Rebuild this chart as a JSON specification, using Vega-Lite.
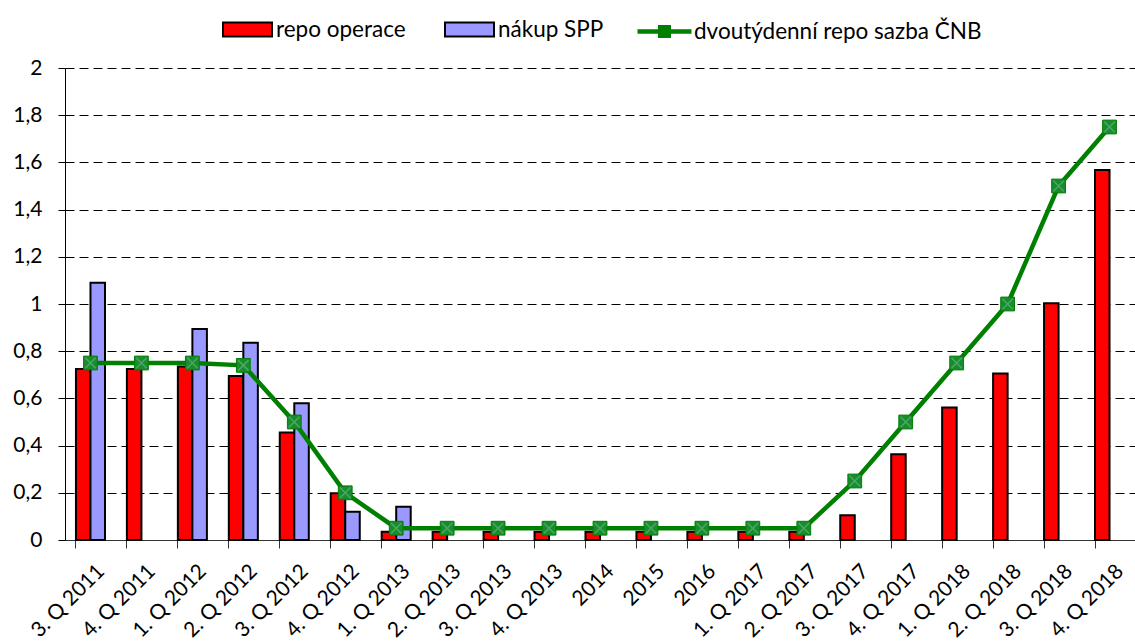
{
  "$schema": "https://vega.github.io/schema/vega-lite/v6.json",
  "autosize": {"type": "none"},
  "width": 1070,
  "height": 472,
  "padding": {"left": 65, "top": 68, "right": 0, "bottom": 104},
  "background": "white",
  "config": {
    "view": {"stroke": null},
    "font": "Lato",
    "axis": {"labelFont": "Lato", "labelColor": "#000", "domainColor": "#000", "tickColor": "#000"},
    "legend": {"labelFont": "Lato", "labelFontSize": 22.5, "labelColor": "#000", "padding": 0, "labelLimit": 500}
  },
  "datasets": {
    "bars": [
      {"cat": "3. Q 2011", "series": "repo operace", "value": 0.725},
      {"cat": "3. Q 2011", "series": "nákup SPP", "value": 1.09},
      {"cat": "4. Q 2011", "series": "repo operace", "value": 0.725},
      {"cat": "1. Q 2012", "series": "repo operace", "value": 0.735},
      {"cat": "1. Q 2012", "series": "nákup SPP", "value": 0.894},
      {"cat": "2. Q 2012", "series": "repo operace", "value": 0.695},
      {"cat": "2. Q 2012", "series": "nákup SPP", "value": 0.836},
      {"cat": "3. Q 2012", "series": "repo operace", "value": 0.455},
      {"cat": "3. Q 2012", "series": "nákup SPP", "value": 0.579},
      {"cat": "4. Q 2012", "series": "repo operace", "value": 0.198},
      {"cat": "4. Q 2012", "series": "nákup SPP", "value": 0.12},
      {"cat": "1. Q 2013", "series": "repo operace", "value": 0.035},
      {"cat": "1. Q 2013", "series": "nákup SPP", "value": 0.141},
      {"cat": "2. Q 2013", "series": "repo operace", "value": 0.035},
      {"cat": "3. Q 2013", "series": "repo operace", "value": 0.035},
      {"cat": "4. Q 2013", "series": "repo operace", "value": 0.035},
      {"cat": "2014", "series": "repo operace", "value": 0.035},
      {"cat": "2015", "series": "repo operace", "value": 0.035},
      {"cat": "2016", "series": "repo operace", "value": 0.035},
      {"cat": "1. Q 2017", "series": "repo operace", "value": 0.035},
      {"cat": "2. Q 2017", "series": "repo operace", "value": 0.035},
      {"cat": "3. Q 2017", "series": "repo operace", "value": 0.105},
      {"cat": "4. Q 2017", "series": "repo operace", "value": 0.363},
      {"cat": "1. Q 2018", "series": "repo operace", "value": 0.561},
      {"cat": "2. Q 2018", "series": "repo operace", "value": 0.706},
      {"cat": "3. Q 2018", "series": "repo operace", "value": 1.003},
      {"cat": "4. Q 2018", "series": "repo operace", "value": 1.568}
    ],
    "rate": [
      {"cat": "3. Q 2011", "series": "dvoutýdenní repo sazba ČNB", "rate": 0.75},
      {"cat": "4. Q 2011", "series": "dvoutýdenní repo sazba ČNB", "rate": 0.75},
      {"cat": "1. Q 2012", "series": "dvoutýdenní repo sazba ČNB", "rate": 0.75},
      {"cat": "2. Q 2012", "series": "dvoutýdenní repo sazba ČNB", "rate": 0.74},
      {"cat": "3. Q 2012", "series": "dvoutýdenní repo sazba ČNB", "rate": 0.5},
      {"cat": "4. Q 2012", "series": "dvoutýdenní repo sazba ČNB", "rate": 0.2},
      {"cat": "1. Q 2013", "series": "dvoutýdenní repo sazba ČNB", "rate": 0.05},
      {"cat": "2. Q 2013", "series": "dvoutýdenní repo sazba ČNB", "rate": 0.05},
      {"cat": "3. Q 2013", "series": "dvoutýdenní repo sazba ČNB", "rate": 0.05},
      {"cat": "4. Q 2013", "series": "dvoutýdenní repo sazba ČNB", "rate": 0.05},
      {"cat": "2014", "series": "dvoutýdenní repo sazba ČNB", "rate": 0.05},
      {"cat": "2015", "series": "dvoutýdenní repo sazba ČNB", "rate": 0.05},
      {"cat": "2016", "series": "dvoutýdenní repo sazba ČNB", "rate": 0.05},
      {"cat": "1. Q 2017", "series": "dvoutýdenní repo sazba ČNB", "rate": 0.05},
      {"cat": "2. Q 2017", "series": "dvoutýdenní repo sazba ČNB", "rate": 0.05},
      {"cat": "3. Q 2017", "series": "dvoutýdenní repo sazba ČNB", "rate": 0.25},
      {"cat": "4. Q 2017", "series": "dvoutýdenní repo sazba ČNB", "rate": 0.5},
      {"cat": "1. Q 2018", "series": "dvoutýdenní repo sazba ČNB", "rate": 0.75},
      {"cat": "2. Q 2018", "series": "dvoutýdenní repo sazba ČNB", "rate": 1.0},
      {"cat": "3. Q 2018", "series": "dvoutýdenní repo sazba ČNB", "rate": 1.5},
      {"cat": "4. Q 2018", "series": "dvoutýdenní repo sazba ČNB", "rate": 1.75}
    ]
  },
  "layer": [
    {
      "data": {"name": "bars"},
      "mark": {"type": "bar", "stroke": "#000", "strokeWidth": 2},
      "encoding": {
        "x": {
          "field": "cat", "type": "nominal", "sort": null, "title": null,
          "scale": {
            "domain": ["3. Q 2011","4. Q 2011","1. Q 2012","2. Q 2012","3. Q 2012","4. Q 2012","1. Q 2013","2. Q 2013","3. Q 2013","4. Q 2013","2014","2015","2016","1. Q 2017","2. Q 2017","3. Q 2017","4. Q 2017","1. Q 2018","2. Q 2018","3. Q 2018","4. Q 2018"],
            "paddingInner": 0.43, "paddingOuter": 0.215
          },
          "axis": {"orient": "bottom", "bandPosition": 0, "labels": false, "ticks": true, "tickSize": 8, "domain": true, "domainColor": "#333", "tickColor": "#333", "grid": false}
        },
        "xOffset": {"field": "series", "type": "nominal", "scale": {"domain": ["repo operace", "nákup SPP"], "paddingInner": 0, "paddingOuter": 0}},
        "y": {
          "field": "value", "type": "quantitative", "title": null,
          "scale": {"domain": [0, 2], "nice": false, "zero": true},
          "axis": {
            "values": [0, 0.2, 0.4, 0.6, 0.8, 1, 1.2, 1.4, 1.6, 1.8, 2],
            "labelExpr": "replace(format(datum.value, '.1~f'), '.', ',')",
            "labelFontSize": 21,
            "grid": true, "gridColor": "#000", "gridDash": [9, 5], "gridWidth": 1,
            "tickSize": 7, "labelPadding": 16, "domain": true, "domainColor": "#000"
          }
        },
        "fill": {
          "field": "series", "type": "nominal",
          "scale": {"domain": ["repo operace", "nákup SPP"], "range": ["#ff0000", "#9999ff"]},
          "legend": {
            "title": null, "orient": "none", "direction": "horizontal",
            "legendX": 157, "legendY": -64,
            "symbolType": "M-1,-0.29H1V0.29H-1Z",
            "symbolSize": 2401, "columnPadding": 35, "labelOffset": 3,
            "symbolStrokeColor": "#000", "symbolStrokeWidth": 2, "symbolOpacity": 1
          }
        }
      }
    },
    {
      "data": {"name": "rate"},
      "mark": {"type": "line", "strokeWidth": 4.5, "point": {"shape": "square", "size": 190, "fill": "#1a8c30", "stroke": "#128024", "strokeWidth": 1}},
      "encoding": {
        "x": {
          "field": "cat", "type": "nominal", "sort": null, "title": null,
          "axis": {"orient": "bottom", "labelAngle": -45, "labelAlign": "right", "labelBaseline": "top", "labelFontSize": 21, "labelPadding": 20, "labelOffset": 3, "ticks": false, "domain": false, "grid": false}
        },
        "y": {"field": "rate", "type": "quantitative", "title": null},
        "stroke": {
          "field": "series", "type": "nominal",
          "scale": {"domain": ["dvoutýdenní repo sazba ČNB"], "range": ["#008000"]},
          "legend": {
            "title": null, "orient": "none", "direction": "horizontal",
            "legendX": 570, "legendY": -66,
            "symbolType": "M-1,0H1M-0.157,-0.157H0.157V0.157H-0.157ZM-0.04,-0.04H0.04V0.04H-0.04Z",
            "symbolSize": 2916, "labelOffset": 0,
            "symbolStrokeWidth": 4.5, "symbolFillColor": "#008000", "symbolOpacity": 1
          }
        }
      }
    },
    {
      "data": {"name": "rate"},
      "mark": {"type": "point", "shape": "M-1,-1L1,1M1,-1L-1,1", "size": 110, "filled": false, "stroke": "#4aa862", "strokeWidth": 1.5, "opacity": 1},
      "encoding": {
        "x": {"field": "cat", "type": "nominal", "sort": null, "axis": null},
        "y": {"field": "rate", "type": "quantitative", "title": null}
      }
    }
  ],
  "resolve": {"axis": {"x": "independent"}}
}
